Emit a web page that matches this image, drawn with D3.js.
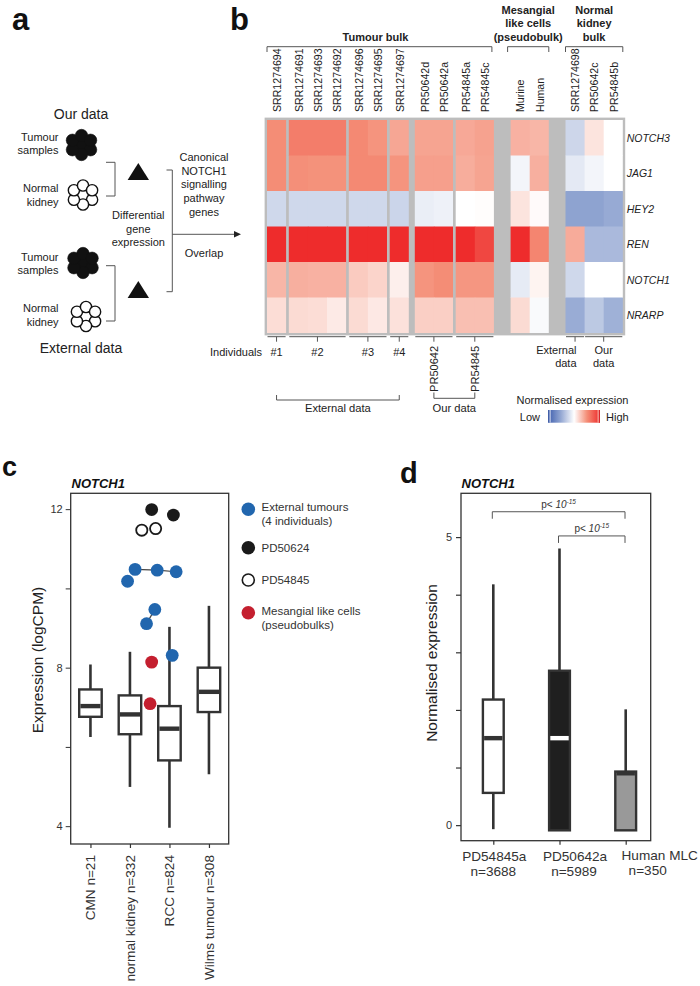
<!DOCTYPE html>
<html>
<head>
  <meta charset="UTF-8" />
  <title>NOTCH1 signalling pathway expression</title>
  <script src="https://cdn.jsdelivr.net/npm/d3@7"></script>
  <style>
    body {
      margin: 0;
      background: #fff;
    }
    svg {
      display: block;
      font-family: 'Liberation Sans', Arial, sans-serif;
    }
  </style>
</head>
<body>
  <div id="figure"></div>

<script>
  // ---------- data: heatmap (panel b) ----------
  const genes = ['NOTCH3', 'JAG1', 'HEY2', 'REN', 'NOTCH1', 'NRARP']
  const samples = [
    'SRR1274694', 'SRR1274691', 'SRR1274693', 'SRR1274692', 'SRR1274696',
    'SRR1274695', 'SRR1274697', 'PR50642d', 'PR50642a', 'PR54845a',
    'PR54845c', 'Murine', 'Human', 'SRR1274698', 'PR50642c', 'PR54845b',
  ]
  // block each sample sits in (cells of a block touch)
  const sampleBlock = [0, 1, 1, 1, 2, 2, 3, 4, 4, 5, 5, 6, 6, 7, 7, 7]
  // normalised expression, -1 = low, 1 = high (one row per gene)
  const expr = [
    [0.50, 0.58, 0.58, 0.58, 0.52, 0.47, 0.39, 0.40, 0.40, 0.38, 0.41, 0.34, 0.32, -0.24, 0.12, 0],
    [0.50, 0.49, 0.48, 0.48, 0.52, 0.52, 0.47, 0.42, 0.42, 0.36, 0.40, -0.06, 0.35, -0.13, -0.06, 0],
    [-0.23, -0.23, -0.23, -0.23, -0.23, -0.23, -0.25, -0.10, -0.08, 0, 0.01, 0.12, 0.02, -0.55, -0.55, -0.5],
    [1, 1, 1, 1, 1, 1, 1, 1, 1, 1, 0.86, 1, 0.54, 0.37, -0.41, -0.41],
    [0.32, 0.35, 0.34, 0.34, 0.23, 0.19, 0.07, 0.47, 0.50, 0.46, 0.46, -0.12, 0.05, -0.23, 0, 0],
    [0.15, 0.16, 0.15, 0.09, 0.16, 0.10, 0.13, 0.21, 0.21, 0.28, 0.28, 0.16, -0.03, -0.49, -0.32, -0.46],
  ]
  const topGroups = [
    { label: ['Tumour bulk'], first: 0, last: 10 },
    { label: ['Mesangial', 'like cells', '(pseudobulk)'], first: 11, last: 12 },
    { label: ['Normal', 'kidney', 'bulk'], first: 13, last: 15 },
  ]
  const individuals = [
    { label: '#1', first: 0, last: 0 },
    { label: '#2', first: 1, last: 3 },
    { label: '#3', first: 4, last: 5 },
    { label: '#4', first: 6, last: 6 },
  ]
  const ourTumours = [
    { label: 'PR50642', first: 7, last: 8 },
    { label: 'PR54845', first: 9, last: 10 },
  ]
  const normalSets = [
    { label: ['External', 'data'], first: 13, last: 13, anchor: 'end' },
    { label: ['Our', 'data'], first: 14, last: 15, anchor: 'middle' },
  ]

  // ---------- data: panel c ----------
  const cCats = ['CMN n=21', 'normal kidney n=332', 'RCC n=824', 'Wilms tumour n=308']
  const cLow = [6.25, 4.99, 3.96, 5.31]
  const cQ1 = [6.76, 6.32, 5.66, 6.88]
  const cMed = [7.03, 6.82, 6.46, 7.39]
  const cQ3 = [7.45, 7.30, 7.03, 8.00]
  const cHigh = [8.08, 8.40, 9.03, 9.56]
  const cTicks = [4, 6, 8, 10, 12]
  const cTickLabels = ['4', '', '8', '', '12']
  // points: x is in category units (0 = CMN ... 3 = Wilms)
  const extTumourX = [1.13, 1.69, 2.17, 0.94, 1.63, 1.42, 2.07]
  const extTumourY = [10.48, 10.46, 10.42, 10.18, 9.47, 9.11, 8.31]
  const extLinks = [[0, 1], [1, 2], [4, 5]]
  const pd50624X = [1.55, 2.10]
  const pd50624Y = [11.99, 11.85]
  const pd54845X = [1.30, 1.65]
  const pd54845Y = [11.47, 11.51]
  const mlcX = [1.55, 1.51]
  const mlcY = [8.14, 7.09]
  const cLegend = [
    { label: ['External tumours', '(4 individuals)'], fill: '#2166ae', stroke: 'none' },
    { label: ['PD50624'], fill: '#1a1a1a', stroke: 'none' },
    { label: ['PD54845'], fill: '#fff', stroke: '#1a1a1a' },
    { label: ['Mesangial like cells', '(pseudobulks)'], fill: '#c41f2f', stroke: 'none' },
  ]

  // ---------- data: panel d ----------
  const dCats = ['PD54845a', 'PD50642a', 'Human MLC']
  const dCounts = ['n=3688', 'n=5989', 'n=350']
  const dLow = [-0.07, -0.09, -0.09]
  const dQ1 = [0.56, -0.09, -0.09]
  const dMed = [1.51, 1.51, 0.90]
  const dQ3 = [2.18, 2.68, 0.93]
  const dHigh = [4.18, 4.80, 2.01]
  const dFill = ['#fff', '#1f1f1f', '#999']
  const dMedColor = ['#333', '#fff', '#333']
  const dTicks = [0, 1, 2, 3, 4, 5]
  const dTickLabels = ['0', '', '', '', '', '5']
  const pTests = [
    { from: 0, to: 2, y: 5.44 },
    { from: 1, to: 2, y: 5.02 },
  ]

  // ---------- page ----------
  const W = 700, H = 986
  const ink = '#333'
  const svg = d3.select('#figure').append('svg')
    .attr('width', W).attr('height', H).attr('viewBox', `0 0 ${W} ${H}`)
  svg.append('rect').attr('width', W).attr('height', H).attr('fill', '#fff')

  function lines(g, rows, x, y, lh) {
    const t = g.append('text').attr('x', x).attr('y', y)
    rows.forEach((r, i) => t.append('tspan').attr('x', x).attr('dy', i ? lh : 0).text(r))
    return t
  }

  // panel letters
  const letters = [['a', 12, 30, 31], ['b', 230, 30, 31], ['c', 2, 476, 27], ['d', 400, 483, 29]]
  letters.forEach(([l, x, y, fs]) => {
    svg.append('text').attr('x', x).attr('y', y).attr('font-size', fs)
      .attr('font-weight', 'bold').attr('fill', '#111').text(l)
  })

  // ================= panel a : schematic =================
  const gA = svg.append('g').attr('fill', '#222')
  const small = 11
  gA.append('text').attr('x', 81).attr('y', 119).attr('font-size', 14)
    .attr('text-anchor', 'middle').text('Our data')
  gA.append('text').attr('x', 81).attr('y', 353).attr('font-size', 14)
    .attr('text-anchor', 'middle').text('External data')

  const sideLabels = [
    { t: ['Tumour', 'samples'], y: 140.5 },
    { t: ['Normal', 'kidney'], y: 192 },
    { t: ['Tumour', 'samples'], y: 260.5 },
    { t: ['Normal', 'kidney'], y: 312 },
  ]
  sideLabels.forEach(s => {
    lines(gA, s.t, 58.5, s.y, 13.5).attr('font-size', small).attr('text-anchor', 'end')
  })

  // cell clusters
  const hex = [[0, 0]].concat(d3.range(6).map(i => {
    const a = Math.PI / 6 + i * Math.PI / 3
    return [10.5 * Math.cos(a), 9.5 * Math.sin(a)]
  }))
  const clusters = [
    { cx: 81.5, cy: 145, filled: true },
    { cx: 83, cy: 195, filled: false },
    { cx: 83, cy: 263, filled: true },
    { cx: 86, cy: 316.5, filled: false },
  ]
  clusters.forEach(c => {
    gA.append('g').selectAll('circle').data(hex).join('circle')
      .attr('cx', d => c.cx + d[0]).attr('cy', d => c.cy + d[1])
      .attr('r', c.filled ? 6.2 : 5.6)
      .attr('fill', c.filled ? '#111' : '#fff')
      .attr('stroke', '#111').attr('stroke-width', c.filled ? 0.6 : 1.4)
  })

  const gaLine = gA.append('g').attr('fill', 'none').attr('stroke', '#555').attr('stroke-width', 1)
  ;[[162.3, 196], [265.7, 321]].forEach(([y0, y1]) => {
    gaLine.append('path').attr('d', `M106,${y0}H115V${y1}H106`)
  })
  gaLine.append('path').attr('d', 'M166.5,170H172.3V291.7H166.5')
  gaLine.append('path').attr('d', 'M172.3,234.3H236')
  gA.append('path').attr('d', 'M241,234.3L234,231L234,237.6Z').attr('fill', '#222')

  ;[163, 281].forEach(y => {
    gA.append('path').attr('d', `M138.3,${y}L149,${y + 17}L127.6,${y + 17}Z`).attr('fill', '#111')
  })
  lines(gA, ['Differential', 'gene', 'expression'], 138.3, 219, 13.6)
    .attr('font-size', small).attr('text-anchor', 'middle')
  lines(gA, ['Canonical', 'NOTCH1', 'signalling', 'pathway', 'genes'], 204, 160.7, 13.8)
    .attr('font-size', small).attr('text-anchor', 'middle')
  gA.append('text').attr('x', 204).attr('y', 256.7).attr('font-size', small)
    .attr('text-anchor', 'middle').text('Overlap')

  // ================= panel b : heatmap =================
  const gB = svg.append('g')
  const cellW = 19.1, rowH = 35.5
  const heatLeft = 267, heatTop = 120, border = 2.4
  const blockGap = [0, 2.7, 2.7, 2.7, 6, 2.7, 16.7, 16.7]
  let cursor = heatLeft
  const colX = samples.map((s, i) => {
    if (i > 0 && sampleBlock[i] !== sampleBlock[i - 1]) cursor += blockGap[sampleBlock[i]]
    const x = cursor
    cursor += cellW
    return x
  })
  const heatRight = cursor
  const xCol = d3.scaleOrdinal().domain(samples).range(colX)
  const yGene = d3.scaleBand().domain(genes).range([heatTop, heatTop + rowH * genes.length])
  const heatBottom = heatTop + rowH * genes.length

  const heatColor = d3.scaleLinear()
    .domain([-1, -0.5, 0, 0.5, 1])
    .range(['#3f5fae', '#97aad4', '#ffffff', '#f48d76', '#ee2c2c'])
    .clamp(true)

  gB.append('rect')
    .attr('x', heatLeft - border).attr('y', heatTop - border)
    .attr('width', heatRight - heatLeft + 2 * border)
    .attr('height', heatBottom - heatTop + 2 * border)
    .attr('fill', '#bdbdbd')

  const cells = []
  genes.forEach((g, gi) => samples.forEach((s, si) => {
    cells.push({ g, gi, s, si, v: expr[gi][si] })
  }))
  gB.append('g').selectAll('rect').data(cells).join('rect')
    .attr('x', d => xCol(d.s))
    .attr('y', d => yGene(d.g))
    .attr('width', d => cellW + (d.si < samples.length - 1 && sampleBlock[d.si + 1] === sampleBlock[d.si] ? 0.5 : 0))
    .attr('height', d => rowH + (d.gi < genes.length - 1 ? 0.5 : 0))
    .attr('fill', d => heatColor(d.v))

  // column labels
  gB.append('g').selectAll('text').data(samples).join('text')
    .attr('transform', d => `translate(${xCol(d) + cellW / 2 + 4.3},112) rotate(-90)`)
    .attr('font-size', 10.6).attr('fill', '#222').text(d => d)

  // gene labels
  gB.append('g').selectAll('text').data(genes).join('text')
    .attr('x', heatRight + border + 1.5)
    .attr('y', d => yGene(d) + rowH / 2 + 4)
    .attr('font-size', 10.5).attr('font-style', 'italic').attr('fill', '#222').text(d => d)

  const bLine = gB.append('g').attr('fill', 'none').attr('stroke', '#555').attr('stroke-width', 1)

  // top group brackets
  topGroups.forEach(gr => {
    const x0 = xCol(samples[gr.first]) - (gr.first === 11 ? 3 : 0)
    const x1 = xCol(samples[gr.last]) + cellW - (gr.last === 10 ? 2 : 0)
    bLine.append('path').attr('d', `M${x0},52V46.7H${x1}V52`)
    const n = gr.label.length
    lines(gB, gr.label, (x0 + x1) / 2 - (n === 1 ? 4 : 0), 40.5 - (n - 1) * 13.5, 13.5)
      .attr('font-size', 11).attr('font-weight', 'bold').attr('text-anchor', 'middle').attr('fill', '#222')
  })

  // bottom brackets
  const bracketY = heatBottom + border + 1.3
  const spanMid = gr => (xCol(samples[gr.first]) + xCol(samples[gr.last]) + cellW) / 2
  function underBracket(gr) {
    const x0 = xCol(samples[gr.first]) + 0.5
    const x1 = xCol(samples[gr.last]) + cellW - 0.5
    const m = (x0 + x1) / 2
    bLine.append('path').attr('d', `M${x0},${bracketY}H${x1}M${m},${bracketY}V${bracketY + 5}`)
  }
  individuals.forEach(gr => {
    underBracket(gr)
    gB.append('text').attr('x', spanMid(gr)).attr('y', 355.5).attr('font-size', 11)
      .attr('text-anchor', 'middle').attr('fill', '#222').text(gr.label)
  })
  gB.append('text').attr('x', 262).attr('y', 355.5).attr('font-size', 11)
    .attr('text-anchor', 'end').attr('fill', '#222').text('Individuals')

  ourTumours.forEach(gr => {
    underBracket(gr)
    gB.append('text')
      .attr('transform', `translate(${spanMid(gr) + 4},346) rotate(-90)`)
      .attr('text-anchor', 'end').attr('font-size', 11).attr('fill', '#222').text(gr.label)
  })
  normalSets.forEach(gr => {
    underBracket(gr)
    const x = gr.anchor === 'end' ? spanMid(gr) + 1.5 : spanMid(gr)
    lines(gB, gr.label, x, 354, 12.7).attr('font-size', 11)
      .attr('text-anchor', gr.anchor).attr('fill', '#222')
  })

  // super brackets: external / our data
  const m1 = spanMid(individuals[0]), m4 = spanMid(individuals[3])
  bLine.append('path').attr('d', `M${m1},395V400H${m4}V395`)
  gB.append('text').attr('x', (m1 + m4) / 2).attr('y', 412).attr('font-size', 11.2)
    .attr('text-anchor', 'middle').attr('fill', '#222').text('External data')
  const p1 = spanMid(ourTumours[0]), p2 = spanMid(ourTumours[1])
  bLine.append('path').attr('d', `M${p1},392.5V398.3H${p2}V392.5`)
  gB.append('text').attr('x', (p1 + p2) / 2).attr('y', 412).attr('font-size', 11.2)
    .attr('text-anchor', 'middle').attr('fill', '#222').text('Our data')

  // colour legend
  const defs = svg.append('defs')
  const grad = defs.append('linearGradient').attr('id', 'heatGrad')
  d3.range(0, 1.0001, 0.05).forEach(t => {
    grad.append('stop').attr('offset', t).attr('stop-color', heatColor(-1 + 2 * t))
  })
  const lgX = 548.3, lgW = 51.7, lgY = 410, lgH = 12.7
  gB.append('rect').attr('x', lgX).attr('y', lgY).attr('width', lgW).attr('height', lgH)
    .attr('fill', 'url(#heatGrad)')
  gB.append('rect').attr('x', lgX).attr('y', lgY).attr('width', 1.2).attr('height', lgH).attr('fill', '#2b4a9c')
  gB.append('rect').attr('x', lgX + 1.2).attr('y', lgY).attr('width', 1.2).attr('height', lgH).attr('fill', '#cdd6ec')
  gB.append('rect').attr('x', lgX + lgW - 2.4).attr('y', lgY).attr('width', 1.2).attr('height', lgH).attr('fill', '#f7c0b2')
  gB.append('rect').attr('x', lgX + lgW - 1.2).attr('y', lgY).attr('width', 1.2).attr('height', lgH).attr('fill', '#d8262a')
  gB.append('text').attr('x', 572.5).attr('y', 404).attr('font-size', 11)
    .attr('text-anchor', 'middle').attr('fill', '#222').text('Normalised expression')
  gB.append('text').attr('x', 540).attr('y', 420.5).attr('font-size', 11)
    .attr('text-anchor', 'end').attr('fill', '#222').text('Low')
  gB.append('text').attr('x', 606).attr('y', 420.5).attr('font-size', 11)
    .attr('fill', '#222').text('High')

  // ================= panel c : box plot + points =================
  const gC = svg.append('g')
  const cL = 70.7, cR = 228.7, cT = 493.3, cB = 844
  const yC = d3.scaleLinear().domain([3.55, 12.4]).range([cB, cT])
  const xC = d3.scalePoint().domain(cCats).range([cL, cR]).padding(0.5)
  const xCn = d3.scaleLinear().domain([0, 3]).range([xC(cCats[0]), xC(cCats[3])])

  gC.append('text').attr('x', 71.5).attr('y', 487.5).attr('font-size', 13)
    .attr('font-weight', 'bold').attr('font-style', 'italic').attr('fill', '#111').text('NOTCH1')

  const cAxis = d3.axisLeft(yC).tickValues(cTicks).tickSize(5).tickPadding(3)
    .tickFormat((d, i) => cTickLabels[i])
  const cAx = gC.append('g').attr('transform', `translate(${cL},0)`).call(cAxis)
  cAx.select('.domain').remove()
  cAx.selectAll('line').attr('stroke', ink).attr('stroke-width', 1)
  cAx.selectAll('text').attr('font-size', 11).attr('fill', ink)
    .attr('font-family', "'Liberation Sans', Arial, sans-serif")

  const cXAxis = d3.axisBottom(xC).tickSize(4).tickFormat('')
  const cXa = gC.append('g').attr('transform', `translate(0,${cB})`).call(cXAxis)
  cXa.select('.domain').remove()
  cXa.selectAll('line').attr('stroke', ink).attr('stroke-width', 1.2)

  gC.append('g').selectAll('text').data(cCats).join('text')
    .attr('transform', d => `translate(${xC(d) + 5},855) rotate(-90)`)
    .attr('text-anchor', 'end').attr('font-size', 13.6).attr('fill', ink).text(d => d)

  gC.append('text').attr('transform', `translate(43,660) rotate(-90)`)
    .attr('text-anchor', 'middle').attr('font-size', 15.5).attr('fill', '#222')
    .text('Expression (logCPM)')

  function boxes(g, cats, xs, y, low, q1, med, q3, high, bw, fills, medColors) {
    const grp = g.append('g')
    cats.forEach((c, i) => {
      const x = xs(c)
      grp.append('line').attr('x1', x).attr('x2', x).attr('y1', y(low[i])).attr('y2', y(high[i]))
        .attr('stroke', ink).attr('stroke-width', 2.6)
      grp.append('rect').attr('x', x - bw / 2).attr('y', y(q3[i]))
        .attr('width', bw).attr('height', y(q1[i]) - y(q3[i]))
        .attr('fill', fills[i]).attr('stroke', ink).attr('stroke-width', 2.4)
      grp.append('line').attr('x1', x - bw / 2 + 1.2).attr('x2', x + bw / 2 - 1.2)
        .attr('y1', y(med[i])).attr('y2', y(med[i]))
        .attr('stroke', medColors[i]).attr('stroke-width', 4.4)
    })
  }
  boxes(gC, cCats, xC, yC, cLow, cQ1, cMed, cQ3, cHigh, 22.5,
    cCats.map(() => '#fff'), cCats.map(() => ink))

  // points
  gC.append('g').selectAll('line').data(extLinks).join('line')
    .attr('x1', d => xCn(extTumourX[d[0]])).attr('y1', d => yC(extTumourY[d[0]]))
    .attr('x2', d => xCn(extTumourX[d[1]])).attr('y2', d => yC(extTumourY[d[1]]))
    .attr('stroke', '#444').attr('stroke-width', 1.2)
  const series = [
    { xs: extTumourX, ys: extTumourY, fill: '#2166ae', stroke: 'none' },
    { xs: pd50624X, ys: pd50624Y, fill: '#1a1a1a', stroke: 'none' },
    { xs: pd54845X, ys: pd54845Y, fill: '#fff', stroke: '#1a1a1a' },
    { xs: mlcX, ys: mlcY, fill: '#c41f2f', stroke: 'none' },
  ]
  series.forEach(s => {
    gC.append('g').selectAll('circle').data(s.xs).join('circle')
      .attr('cx', d => xCn(d)).attr('cy', (d, i) => yC(s.ys[i]))
      .attr('r', s.stroke === 'none' ? 6.4 : 5.6)
      .attr('fill', s.fill).attr('stroke', s.stroke).attr('stroke-width', 1.8)
  })

  gC.append('rect').attr('x', cL).attr('y', cT).attr('width', cR - cL).attr('height', cB - cT)
    .attr('fill', 'none').attr('stroke', ink).attr('stroke-width', 1.3)

  // legend c
  const legY = [509.3, 547.7, 580, 612.7]
  cLegend.forEach((it, i) => {
    gC.append('circle').attr('cx', 248.3).attr('cy', legY[i])
      .attr('r', it.stroke === 'none' ? 6.8 : 6)
      .attr('fill', it.fill).attr('stroke', it.stroke).attr('stroke-width', 1.6)
    lines(gC, it.label, 261.5, legY[i] + (it.label.length > 1 ? 2 : 4), 14)
      .attr('font-size', 11.5).attr('fill', ink)
  })

  // ================= panel d : box plot =================
  const gD = svg.append('g')
  const dL = 461, dR = 650.7, dT = 493.3, dB = 840.7
  const yD = d3.scaleLinear().domain([-0.27, 5.76]).range([dB, dT])
  const xD = d3.scalePoint().domain(dCats).range([dL + 32.3, dR - 25])

  gD.append('text').attr('x', 461.5).attr('y', 487.5).attr('font-size', 13)
    .attr('font-weight', 'bold').attr('font-style', 'italic').attr('fill', '#111').text('NOTCH1')

  const dAxis = d3.axisLeft(yD).tickValues(dTicks).tickSize(5).tickPadding(4)
    .tickFormat((d, i) => dTickLabels[i])
  const dAx = gD.append('g').attr('transform', `translate(${dL},0)`).call(dAxis)
  dAx.select('.domain').remove()
  dAx.selectAll('line').attr('stroke', ink).attr('stroke-width', 1.2)
  dAx.selectAll('text').attr('font-size', 11).attr('fill', ink)
    .attr('font-family', "'Liberation Sans', Arial, sans-serif")

  const dXAxis = d3.axisBottom(xD).tickSize(4).tickFormat('')
  const dXa = gD.append('g').attr('transform', `translate(0,${dB})`).call(dXAxis)
  dXa.select('.domain').remove()
  dXa.selectAll('line').attr('stroke', ink).attr('stroke-width', 1.2)

  // category name and count as two separate texts
  const dLabelShift = [1, 15.5, 34]
  dCats.forEach((c, i) => {
    const x = xD(c) + dLabelShift[i]
    const y0 = 861 - (i === 2 ? 1.5 : 0)
    gD.append('text').attr('x', x).attr('y', y0).attr('font-size', 13.6)
      .attr('text-anchor', 'middle').attr('fill', ink).text(c)
    gD.append('text').attr('x', x - (i === 2 ? 12 : 1)).attr('y', y0 + 15)
      .attr('font-size', 13.6).attr('text-anchor', 'middle').attr('fill', ink).text(dCounts[i])
  })

  gD.append('text').attr('transform', `translate(437,663) rotate(-90)`)
    .attr('text-anchor', 'middle').attr('font-size', 15.5).attr('fill', '#222')
    .text('Normalised expression')

  boxes(gD, dCats, xD, yD, dLow, dQ1, dMed, dQ3, dHigh, 20.8, dFill, dMedColor)

  // significance brackets
  pTests.forEach(p => {
    const x0 = xD(dCats[p.from]) - 1, x1 = xD(dCats[p.to]) - 0.7
    const y = yD(p.y)
    gD.append('path').attr('d', `M${x0},${y + 7}V${y}H${x1}V${y + 7}`)
      .attr('fill', 'none').attr('stroke', '#555').attr('stroke-width', 1)
    const t = gD.append('text').attr('x', (x0 + x1) / 2).attr('y', y - 4)
      .attr('text-anchor', 'middle').attr('font-size', 10).attr('fill', ink)
    t.append('tspan').text('p< ')
    t.append('tspan').attr('font-style', 'italic').text('10')
    t.append('tspan').attr('font-style', 'italic').attr('font-size', 6.5).attr('dy', -4).text('-15')
  })

  gD.append('rect').attr('x', dL).attr('y', dT).attr('width', dR - dL).attr('height', dB - dT)
    .attr('fill', 'none').attr('stroke', ink).attr('stroke-width', 1.3)
</script>
</body>
</html>
